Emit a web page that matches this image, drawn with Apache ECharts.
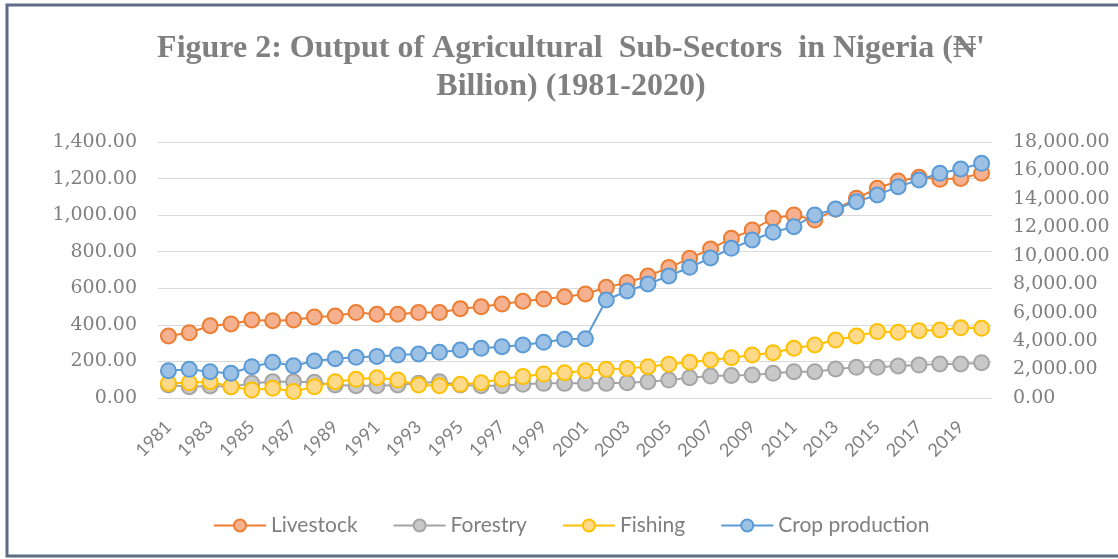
<!DOCTYPE html>
<html>
<head>
<meta charset="utf-8">
<script src="https://cdn.jsdelivr.net/npm/echarts@6/dist/echarts.min.js"></script>
<style>
html,body{margin:0;padding:0;background:#fff;}
#chart{width:1118px;height:559px;}
</style>
</head>
<body>
<div id="chart"></div>
<script>
const years = [];
for (let y = 1981; y <= 2020; y++) years.push(String(y));

const livestock = [339,357,395,405,427,423,427,443,448,467,458,458,467,467,488,499,514,529,541,554,569,605,632,667,713,764,815,873,919,983,1001,973,1032,1092,1147,1187,1207,1196,1201,1229];
const forestry = [71,62,66,62,80,89,89,86,71,67,67,71,80,89,71,67,67,75,80,80,80,80,84,89,98,111,120,123,126,135,144,144,159,168,168,175,180,186,186,193];
const fishing = [80,84,89,62,44,53,35,62,89,102,111,98,71,67,75,84,104,117,131,138,149,157,162,171,184,195,208,220,235,248,272,290,317,339,363,359,368,372,384,381];
const cropProduction = [1920,2015,1850,1735,2200,2510,2270,2600,2765,2860,2920,3025,3095,3210,3375,3490,3610,3725,3915,4125,4170,6890,7525,8015,8580,9190,9845,10525,11110,11650,12045,12870,13290,13805,14275,14860,15330,15800,16100,16500];

const seriesNames = ['Livestock','Forestry','Fishing','Crop production'];
const lineColors = ['#ED7D31','#A5A5A5','#FFC000','#5B9BD5'];
const fillColors = ['#F4B08F','#C8C8C8','#FFD98A','#9DC0E5'];

const titleText = "Figure 2: Output of Agricultural  Sub-Sectors  in Nigeria (\u20A6'\nBillion) (1981-2020)";

const chart = echarts.init(document.getElementById('chart'));
const fmt = v => v.toLocaleString('en-US',{minimumFractionDigits:2,maximumFractionDigits:2});

function mk(i, data, axisIndex){
  return {
    name: seriesNames[i], type:'line', data: data, yAxisIndex: axisIndex,
    symbol:'circle', symbolSize:15, showAllSymbol:true,
    lineStyle:{color:lineColors[i], width:2},
    itemStyle:{color:fillColors[i], borderColor:lineColors[i], borderWidth:2},
    emphasis:{disabled:true}, animation:false
  };
}

chart.setOption({
  backgroundColor:'#ffffff',
  animation:false,
  graphic:[{type:'rect', shape:{x:7,y:5,width:1130,height:551}, style:{fill:'none',stroke:'#5d6d88',lineWidth:3}, silent:true}],
  title:{
    text:titleText, left:566, top:25, textAlign:'center',
    textStyle:{fontFamily:'Liberation Serif', fontWeight:'bold', fontSize:32, color:'#808080', lineHeight:38}
  },
  legend:{
    data:seriesNames, left:208, top:510, itemWidth:52, itemHeight:15, itemGap:35,
    textStyle:{fontFamily:'Lato', fontSize:21, color:'#7f7f7f'}
  },
  grid:{left:158, right:126, top:142, bottom:161, containLabel:false},
  xAxis:{
    type:'category', data:years, boundaryGap:true,
    axisLine:{show:false}, axisTick:{show:false},
    axisLabel:{interval:1, rotate:45, margin:26, fontFamily:'Lato', fontSize:18, color:'#7f7f7f'}
  },
  yAxis:[
    {type:'value', min:0, max:1400, interval:200, position:'left',
     axisLine:{show:false}, axisTick:{show:false},
     splitLine:{lineStyle:{color:'#d9d9d9', width:1}},
     axisLabel:{formatter:fmt, margin:21, fontFamily:'DejaVu Serif', fontSize:19, color:'#7f7f7f'}},
    {type:'value', min:0, max:18000, interval:2000, position:'right',
     axisLine:{show:false}, axisTick:{show:false}, splitLine:{show:false},
     axisLabel:{formatter:fmt, margin:21, fontFamily:'DejaVu Serif', fontSize:19, color:'#7f7f7f'}}
  ],
  series:[mk(0,livestock,0), mk(1,forestry,0), mk(2,fishing,0), mk(3,cropProduction,1)]
});
</script>
</body>
</html>
